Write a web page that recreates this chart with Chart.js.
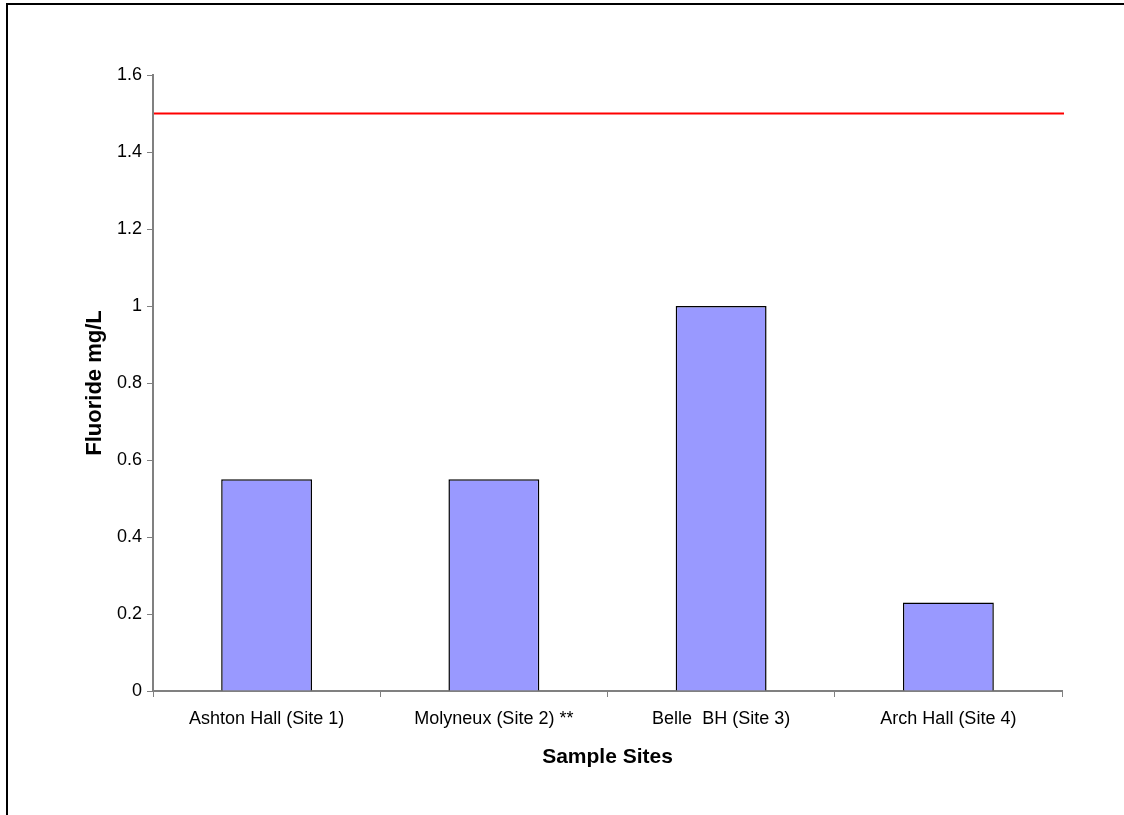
<!DOCTYPE html>
<html>
<head>
<meta charset="utf-8">
<script src="https://cdn.jsdelivr.net/npm/chart.js@4.4.0/dist/chart.umd.min.js"></script>
<style>
  html, body { margin: 0; padding: 0; background: #fff; }
  #wrap { position: relative; width: 1124px; height: 815px; overflow: hidden; }
  #frame { position: absolute; left: 6px; top: 3px; width: 1200px; height: 900px;
           border-top: 2px solid #000; border-left: 2px solid #000; }
  canvas { position: absolute; left: 0; top: 0; }
</style>
</head>
<body>
<div id="wrap">
  <div id="frame"></div>
  <canvas id="fluorideChart" width="1124" height="815"></canvas>
</div>
<script>
const sites = ['Ashton Hall (Site 1)', 'Molyneux (Site 2) **', 'Belle  BH (Site 3)', 'Arch Hall (Site 4)'];
const fluoride = [0.55, 0.55, 1.0, 0.23];
const guideline = 1.5; // red limit line
const yTicks = { min: 0, max: 1.6, step: 0.2 };

const axisGrey = '#808080';
const tickFont = { family: 'Liberation Sans, Arial, sans-serif', size: 18 };
const titleFont = { family: 'Liberation Sans, Arial, sans-serif', size: 21, weight: 'bold' };

// horizontal limit line across the plot area
const limitLine = {
    id: 'limitLine',
    afterDatasetsDraw(chart) {
        const y = chart.scales.y.getPixelForValue(guideline);
        const ctx = chart.ctx;
        ctx.save();
        ctx.strokeStyle = '#ff0000';
        ctx.lineWidth = 2;
        ctx.beginPath();
        ctx.moveTo(chart.chartArea.left + 1, y);
        ctx.lineTo(chart.chartArea.right + 2, y);
        ctx.stroke();
        ctx.restore();
    }
};

const ctx = document.getElementById('fluorideChart').getContext('2d');
new Chart(ctx, {
    type: 'bar',
    data: {
        labels: sites,
        datasets: [{
            label: 'Fluoride',
            data: fluoride,
            backgroundColor: '#9999ff',
            borderColor: '#000000',
            borderWidth: 1.5,
            barPercentage: 0.4,
            categoryPercentage: 1.0
        }]
    },
    options: {
        responsive: false,
        animation: false,
        layout: { padding: { left: 0, right: 62, top: 75, bottom: 0 } },
        plugins: {
            legend: { display: false },
            tooltip: { enabled: false }
        },
        scales: {
            x: {
                grid: { display: true, drawOnChartArea: false, drawTicks: true, tickLength: 6, color: axisGrey, offset: true },
                border: { display: true, color: axisGrey, width: 2 },
                ticks: { color: '#000', font: tickFont, padding: 11, maxRotation: 0, autoSkip: false },
                title: { display: true, text: 'Sample Sites', color: '#000', font: titleFont, padding: { top: 0, bottom: 45 } },
                afterFit(scale) { scale.height = 124; }
            },
            y: {
                min: yTicks.min,
                max: yTicks.max,
                grid: { display: true, drawOnChartArea: false, drawTicks: true, tickLength: 6, color: axisGrey },
                border: { display: true, color: axisGrey, width: 2 },
                ticks: {
                    stepSize: yTicks.step, color: '#000', font: tickFont, padding: 5,
                    callback: value => String(Number(value.toFixed(2)))
                },
                title: { display: true, text: 'Fluoride mg/L', color: '#000', font: { ...titleFont, size: 22 }, padding: { top: 82, bottom: 0 } },
                afterFit(scale) { scale.width = 153; }
            }
        }
    },
    plugins: [limitLine]
});
</script>
</body>
</html>
